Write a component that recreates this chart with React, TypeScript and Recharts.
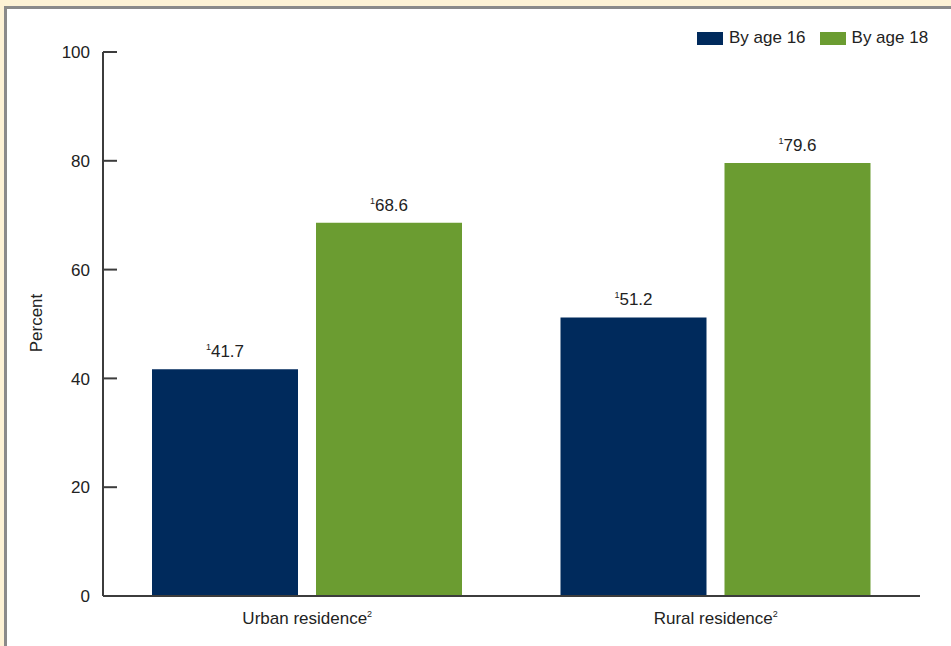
import { BarChart, Bar, XAxis, YAxis, Legend, LabelList } from 'recharts';

// residence categories and the share (percent) by age
const categories = ['Urban residence', 'Rural residence'];
const byAge16 = [41.7, 51.2];
const byAge18 = [68.6, 79.6];
const yTicks = [0, 20, 40, 60, 80, 100];

const data = categories.map((name, i) => ({ name, age16: byAge16[i], age18: byAge18[i] }));

const FONT = 'Arial, "Liberation Sans", Helvetica, sans-serif';
const TEXT = '#222';
const NAVY = '#002a5c';
const GREEN = '#6b9c31';

const YTick = (props: any) => {
    const { x, y, payload } = props;
    return (
        <g>
            <line x1={x + 13} x2={x + 27} y1={y} y2={y} stroke="#3c3c3c" strokeWidth={2} />
            <text x={x} y={y} dy="0.36em" textAnchor="end" fontSize={17} fill={TEXT} fontFamily={FONT}>
                {payload.value}
            </text>
        </g>
    );
};

const XTick = (props: any) => {
    const { x, y, payload } = props;
    return (
        <text x={x} y={y} dy="0.71em" textAnchor="middle" fontSize={17} fill={TEXT} fontFamily={FONT}>
            {payload.value}
            <tspan fontSize={9} dy={-7}>2</tspan>
        </text>
    );
};

const ValueLabel = (props: any) => {
    const { x, y, width, value } = props;
    return (
        <text x={x + width / 2} y={y - 12} textAnchor="middle" fontSize={17} fill={TEXT} fontFamily={FONT}>
            <tspan fontSize={9} dy={-7}>1</tspan>
            <tspan dy={7}>{value.toFixed(1)}</tspan>
        </text>
    );
};

const LegendBox = (props: any) => {
    const { payload } = props;
    return (
        <div style={{ display: 'flex', alignItems: 'center', fontFamily: FONT, fontSize: 17, color: TEXT }}>
            {payload.map((p: any) => (
                <div key={p.value} style={{ display: 'flex', alignItems: 'center', marginRight: 14 }}>
                    <span style={{ display: 'inline-block', width: 26, height: 13, background: p.color, marginRight: 6 }} />
                    <span>{p.value}</span>
                </div>
            ))}
        </div>
    );
};

const App = () => {
    return (
        <div style={{ position: 'absolute', top: 0, left: 0, width: 951, height: 646, background: '#fdf2d5', overflow: 'hidden' }}>
            <div
                style={{
                    position: 'absolute', left: 4, top: 6, right: 0, bottom: 0,
                    background: '#fff', borderTop: '3px solid #8a8a8a', borderLeft: '3px solid #8a8a8a',
                }}
            />
            <div style={{ position: 'absolute', top: 0, left: 0 }}>
                <BarChart
                    width={951}
                    height={646}
                    data={data}
                    margin={{ top: 52, right: 31, bottom: 20, left: 43 }}
                    barGap={18}
                    barSize={146}
                >
                    <XAxis
                        dataKey="name"
                        tick={<XTick />}
                        tickLine={false}
                        tickSize={0}
                        tickMargin={16}
                        axisLine={{ stroke: '#3c3c3c', strokeWidth: 2 }}
                    />
                    <YAxis
                        width={60}
                        domain={[0, 100]}
                        ticks={yTicks}
                        tick={<YTick />}
                        tickLine={false}
                        tickSize={0}
                        tickMargin={13}
                        axisLine={{ stroke: '#3c3c3c', strokeWidth: 2 }}
                        label={{
                            content: () => (
                                <text
                                    x={36}
                                    y={323}
                                    transform="rotate(-90, 36, 323)"
                                    textAnchor="middle"
                                    dominantBaseline="central"
                                    fontSize={17}
                                    fill={TEXT}
                                    fontFamily={FONT}
                                >
                                    Percent
                                </text>
                            ),
                        }}
                    />
                    <Legend
                        layout="horizontal"
                        verticalAlign="middle"
                        align="center"
                        content={<LegendBox />}
                        wrapperStyle={{ left: 697, top: 28, width: 260, height: 20 }}
                    />
                    <Bar dataKey="age16" name="By age 16" fill={NAVY} isAnimationActive={false}>
                        <LabelList dataKey="age16" content={<ValueLabel />} />
                    </Bar>
                    <Bar dataKey="age18" name="By age 18" fill={GREEN} isAnimationActive={false}>
                        <LabelList dataKey="age18" content={<ValueLabel />} />
                    </Bar>
                </BarChart>
            </div>
        </div>
    );
};

export default App;
